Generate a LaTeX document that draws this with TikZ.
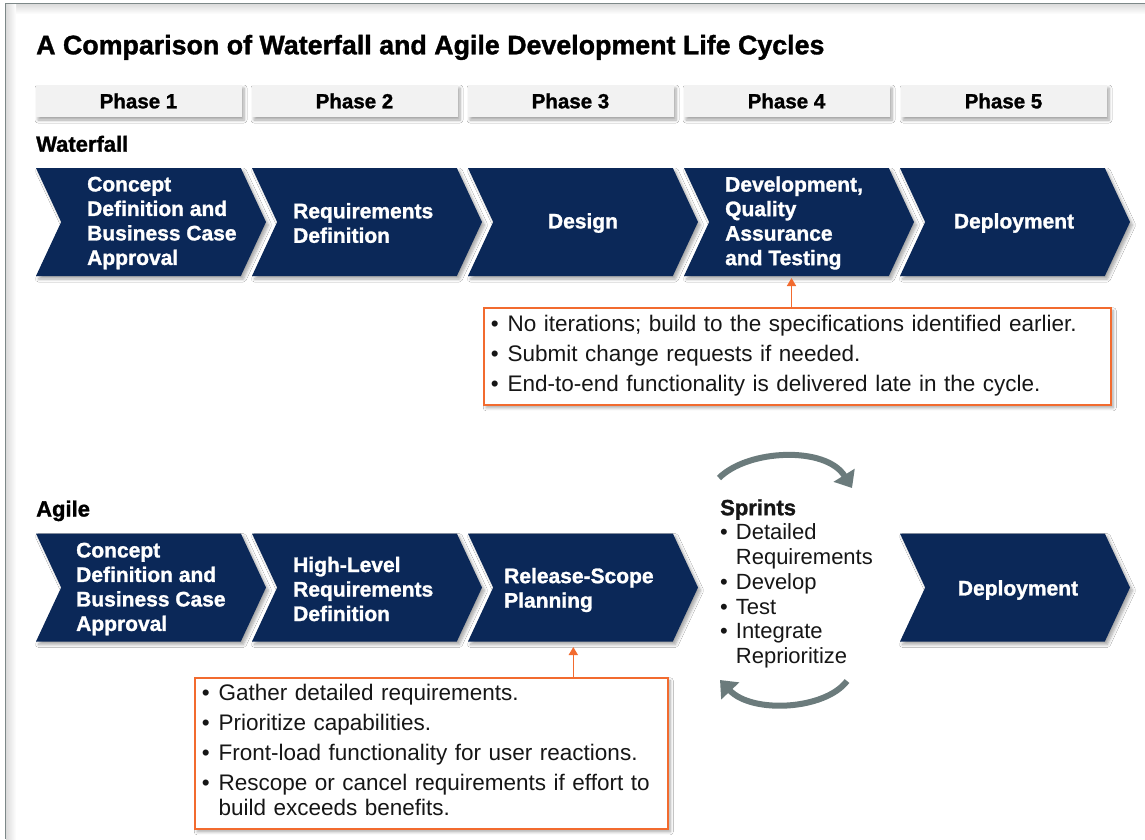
\documentclass[tikz,border=0pt]{standalone}
\usepackage{fontspec}
\setmainfont{Liberation Sans}[BoldFeatures={FakeBold=1.3}]
\usetikzlibrary{shapes.symbols,shadows.blur,arrows.meta}
\definecolor{navy}{HTML}{0B2858}
\definecolor{orng}{HTML}{F26B2F}
\definecolor{phasegray}{HTML}{F2F2F2}
\definecolor{arcgray}{HTML}{6B7B7C}
\definecolor{framegray}{HTML}{7D8888}
\definecolor{ink}{HTML}{161616}
\newcommand\titlefnt{\fontsize{26.8}{30}\selectfont\bfseries}
\newcommand\labelfnt{\fontsize{22}{26}\selectfont\bfseries}
\newcommand\phasefnt{\fontsize{20.5}{24}\selectfont\bfseries}
\newcommand\chevfnt{\fontsize{21}{24.5}\selectfont\bfseries}
\newcommand\bodyfnt{\fontsize{22.5}{24.4}\selectfont}
\newcommand\sprintfnt{\fontsize{22}{24.7}\selectfont}
\begin{document}
\begin{tikzpicture}[x=1pt,y=-1pt,
  softshadow/.style={blur shadow={shadow xshift=2.5pt,shadow yshift=-3pt,shadow blur radius=3pt,shadow blur steps=6,shadow opacity=35}},
  phasebox/.style={rectangle,fill=phasegray,minimum width=206pt,minimum height=32pt,inner sep=0pt,font=\phasefnt,text=black,softshadow},
  chevron/.style={signal,signal from=west,signal to=east,signal pointer angle=130,fill=navy,minimum width=230pt,minimum height=108pt,inner sep=0pt,outer sep=0pt,softshadow},
  chevtext/.style={text=white,font=\chevfnt,align=left,inner sep=0pt},
  rowlabel/.style={anchor=base west,font=\labelfnt,text=black,inner sep=0pt},
  callout/.style={rectangle,draw=orng,line width=1.5pt,fill=white,softshadow,anchor=north west,inner xsep=7pt,inner ysep=0pt,align=left,font=\bodyfnt,text=ink},
  calloutarrow/.style={orng,line width=1.6pt,-{Triangle[length=8pt,width=9pt]}},
  cyclearrow/.style={arcgray,line width=6pt,-{Triangle[length=15pt,width=24pt]}}
]
\useasboundingbox (0,0) rectangle (1145,839);
\fill[white] (0,0) rectangle (1145,839);
% frame with a soft inner shadow
\shade[top color=black!14,bottom color=white] (6,4) rectangle (1145,14);
\shade[left color=black!14,right color=white] (6,4) rectangle (16,839);
\draw[framegray,line width=1.6pt] (5.5,839) -- (5.5,3.5) -- (1145,3.5);

% title
\node[anchor=base west,font=\titlefnt,text=black,inner sep=0pt] (title) at (36,54.3)
  {A Comparison of Waterfall and Agile Development Life Cycles};

% phase headers
\node[phasebox] (p1) at (138.5,101) {Phase 1};
\node[phasebox] (p2) at (354.5,101) {Phase 2};
\node[phasebox] (p3) at (570.5,101) {Phase 3};
\node[phasebox] (p4) at (786.5,101) {Phase 4};
\node[phasebox] (p5) at (1003.5,101) {Phase 5};

% waterfall
\node[rowlabel] (wlabel) at (36,151.7) {Waterfall};
\node[chevron] (w1) at (151,222) {};
\node[chevron] (w2) at (367,222) {};
\node[chevron] (w3) at (583,222) {};
\node[chevron] (w4) at (799,222) {};
\node[chevron] (w5) at (1015,222) {};
\node[chevtext,anchor=west] (tw1) at (87,223) {Concept\\Definition and\\Business Case\\Approval};
\node[chevtext,anchor=west] (tw2) at (293,223) {Requirements\\Definition};
\node[chevtext] (tw3) at (583,223) {Design};
\node[chevtext,anchor=west] (tw4) at (725,223) {Development,\\Quality\\Assurance\\and Testing};
\node[chevtext] (tw5) at (1014,223) {Deployment};

\node[callout,text width=613pt,minimum height=97pt] (n1) at (483,307) {%
\begin{tabular}{@{}l@{\hspace{9pt}}l@{}}
• & No iterations; build to the specifications identified earlier.\\[5.6pt]
• & Submit change requests if needed.\\[5.6pt]
• & End-to-end functionality is delivered late in the cycle.
\end{tabular}};
\coordinate (t1) at (791.5,278);
\draw[calloutarrow] (n1.north -| t1) -- (t1);

% agile
\node[rowlabel] (alabel) at (36,516.5) {Agile};
\node[chevron] (a1) at (151,587.5) {};
\node[chevron] (a2) at (367,587.5) {};
\node[chevron] (a3) at (583,587.5) {};
\node[chevron] (a5) at (1015,587.5) {};
\node[chevtext,anchor=west] (ta1) at (76,589) {Concept\\Definition and\\Business Case\\Approval};
\node[chevtext,anchor=west] (ta2) at (293,589) {High-Level\\Requirements\\Definition};
\node[chevtext,anchor=west] (ta3) at (504,590) {Release-Scope\\Planning};
\node[chevtext] (ta5) at (1018,590) {Deployment};

\node[anchor=north west,inner sep=0pt,font=\sprintfnt,text=ink,align=left] (spr) at (720,497.7) {%
\begin{tabular}{@{}l@{\hspace{8pt}}l@{}}
\multicolumn{2}{@{}l@{}}{\bfseries Sprints}\\
• & Detailed\\
  & Requirements\\
• & Develop\\
• & Test\\
• & Integrate\\
  & Reprioritize
\end{tabular}};

\coordinate (c1s) at (719,478);
\coordinate (c1e) at (852,488);
\draw[cyclearrow] (c1s) .. controls (748,449) and (826,446) .. (c1e);
\coordinate (c2s) at (847,681);
\coordinate (c2e) at (720,680);
\draw[cyclearrow] (c2s) .. controls (825,710) and (752,714) .. (c2e);

\node[callout,text width=459pt,minimum height=151pt] (n2) at (194,677) {%
\begin{tabular}{@{}l@{\hspace{9pt}}l@{}}
• & Gather detailed requirements.\\[5.6pt]
• & Prioritize capabilities.\\[5.6pt]
• & Front-load functionality for user reactions.\\[5.6pt]
• & Rescope or cancel requirements if effort to\\
  & build exceeds benefits.
\end{tabular}};
\coordinate (t2) at (573.3,647);
\draw[calloutarrow] (n2.north -| t2) -- (t2);
\end{tikzpicture}
\end{document}
